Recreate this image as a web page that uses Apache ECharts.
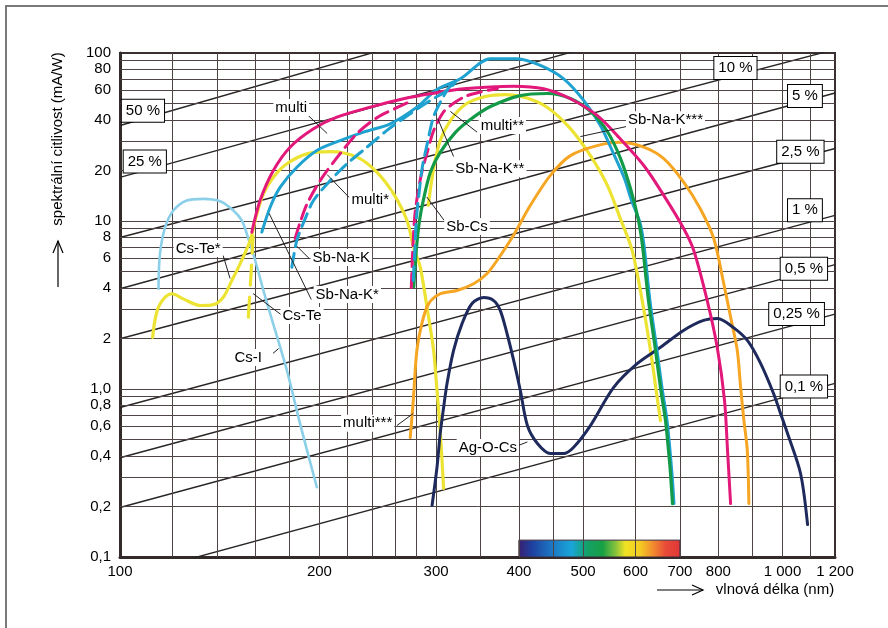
<!DOCTYPE html>
<html><head><meta charset="utf-8">
<script src="https://cdn.jsdelivr.net/npm/echarts@6/dist/echarts.min.js"></script>
<style>html,body{margin:0;padding:0;background:#fff}#c{width:888px;height:628px}</style>
</head><body><div id="c"></div>
<script>
// ---- axes / ticks ----
const xTickLabels = [100,200,300,400,500,600,700,800,1000,1200];
const yTickLabels = [0.1,0.2,0.4,0.6,0.8,1,2,4,6,8,10,20,40,60,80,100];
const xGridLines = [120,140,160,180,200,220,240,260,280,300,350,400,450,500,600,700,800,900,1000,1100];
const yGridLines = [0.2,0.3,0.4,0.5,0.6,0.7,0.8,0.9,1,2,3,4,5,6,7,8,9,10,20,30,40,50,60,70,80,90];

// ---- constant quantum efficiency lines (two points) ----
const qeNames   = ['50 %','25 %','10 %','5 %','2,5 %','1 %','0,5 %','0,25 %','0,1 %'];
const qeStart   = [[100,37],[100,18.2],[100,7.98],[100,3.95],[100,1.99],[100,0.776],[100,0.39],[100,0.197],[100,0.075]];
const qeEnd     = [[265,112],[531,113],[1200,105],[1200,57.8],[1200,27.0],[1200,10.8],[1200,5.5],[1200,2.79],[1200,1.08]];
const qeLabelAt = [[108.3,45.3],[109,22.6],[849,81.4],[1081,55.5],[1064,25.8],[1081,11.6],[1077,5.2],[1050,2.80],[1077,1.035]];

// ---- curves (wavelength nm, sensitivity mA/W) ----
const csI = [[114.3,3.95],[114.9,6.38],[117.0,9.19],[120.4,11.55],[126.1,13.24],[133.6,13.55],[141.6,13.1],[148.3,11.55],[152.7,10.07],[155.4,8.39],[160.0,5.82],[164.6,3.86],[168.5,2.81],[178.6,1.29],[187.0,0.62],[198.2,0.26]];
const csTeStar = [[112.0,2.03],[112.9,2.56],[114.3,3.07],[117.0,3.52],[119.7,3.69],[124.6,3.44],[132.1,3.14],[138.3,3.18],[143.2,3.52],[147.5,4.42],[151.8,5.56],[156.2,7.15],[158.1,8.2]];
const csTe = [[156.2,2.68],[157.5,4.5],[158.8,8.1]];
const yellowArch = [[158.1,8.2],[160.9,11.04],[164.6,14.5],[170.4,18.2],[178.6,21.9],[191.4,25.1],[207.6,25.9],[227.9,24.0],[244.3,19.5],[258.8,14.5],[271.1,10.07],[277.4,6.98],[283.9,5.31],[290.6,3.07],[297.4,1.70],[300.1,1.12],[304.3,0.566],[307.9,0.256]];
const multi = [[158.1,8.58],[162.7,13.24],[170.4,19.98],[180.6,27.5],[195.9,35.4],[212.5,41.5],[238.6,47.6],[267.9,53.4],[294.0,57.2],[330.0,61.2],[392.8,63.4],[435.9,61.2],[478.4,53.4],[524.9,42.5],[562.8,32.3],[617.4,21.4],[661.8,14.2],[709.5,8.99],[734.5,6.68],[769.7,3.36],[796.9,1.77],[817.4,0.854],[826.0,0.430],[834.8,0.208]];
const cyanSolid = [[163.7,8.58],[168.5,12.08],[174.5,15.9],[184.9,20.9],[198.2,26.3],[214.9,30.1],[233.1,33.8],[255.8,37.9],[280.6,47.6],[300.9,60.6],[326.3,70.2],[362.3,92.4],[397.5,92.4],[431.0,84.3],[467.4,70.2],[501.0,52.2],[531.0,37.0],[555.7,25.2],[577.3,17.9],[591.6,13.24],[609.2,9.8],[617.9,7.15],[630.8,3.36],[646.4,1.70],[657.7,1.02],[669.3,0.649],[681.0,0.314],[685.7,0.208]];
const sbCs = [[277.6,4.07],[280.0,6.68],[282.9,9.80],[286.9,13.24],[294.0,19.44],[304.3,25.6],[320.6,33.6],[337.9,40.2],[362.3,48.0],[402.0,55.8],[441.6,57.4],[478.4,53.6],[512.9,44.9],[544.0,34.1],[569.3,23.6],[589.5,15.6],[606.1,10.07],[614.6,7.15],[627.6,3.36],[643.1,1.70],[654.3,1.02],[665.8,0.649],[672.8,0.431],[677.5,0.314],[682.2,0.208]];
const yellow2 = [[291.9,12.4],[297.1,20.0],[304.3,30.1],[315.2,39.6],[331.9,49.4],[356.0,55.1],[381.6,56.6],[409.1,54.3],[441.6,47.4],[478.4,35.5],[512.9,24.5],[544.0,16.3],[569.3,10.3],[592.9,6.68],[614.0,3.36],[631.9,1.70],[646.8,0.89],[654.3,0.649]];
const magDash1 = [[183.8,7.87],[187.0,9.80],[191.7,12.71],[200.5,17.4],[212.7,23.9],[228.0,33.2],[244.5,41.3],[262.1,47.4],[274.2,51.4]];
const cyanDash1 = [[181.7,5.31],[184.9,7.66],[190.4,10.35],[195.9,13.24],[207.6,17.4],[220.1,21.9],[235.9,27.5],[252.9,34.6],[274.2,43.5],[294.0,52.2],[311.6,59.8],[320.6,66.8]];
const magDash2 = [[275.2,4.02],[276.6,6.68],[278.6,10.78],[282.0,15.2],[285.9,20.0],[290.9,25.6],[297.1,34.1],[307.5,44.3],[318.4,50.0],[331.9,55.1],[349.9,58.6],[371.2,61.5]];
const cyanDash2 = [[277.1,4.42],[278.6,6.68],[280.0,10.07],[282.5,14.2],[285.9,20.8],[290.9,28.9],[297.1,41.3],[304.3,50.8],[313.0,61.5],[321.7,68.6]];
const orange = [[274.2,0.514],[277.1,0.854],[280.6,1.70],[285.5,2.45],[292.2,3.21],[304.3,3.69],[322.6,3.86],[341.8,4.23],[357.9,4.85],[370.7,5.82],[392.4,8.20],[416.3,12.4],[446.3,18.7],[478.4,24.5],[524.9,28.1],[569.3,29.4],[617.4,27.5],[661.8,23.5],[709.5,17.0],[751.7,11.8],[787.4,7.87],[815.3,4.23],[834.8,2.68],[854.4,1.70],[864.4,1.025],[874.4,0.649],[884.7,0.431],[889.6,0.208]];
const agOCs = [[295.8,0.2025],[300.9,0.341],[304.3,0.543],[307.5,0.745],[311.6,1.078],[318.8,1.70],[328.3,2.45],[339.9,3.23],[353.9,3.50],[366.4,3.36],[375.0,2.93],[383.8,2.14],[392.8,1.48],[402.0,0.98],[412.0,0.606],[426.6,0.474],[446.3,0.413],[467.0,0.413],[483.5,0.449],[512.9,0.606],[555.7,1.02],[603.9,1.42],[654.3,1.77],[708.7,2.23],[759.8,2.56],[797.7,2.63],[843.3,2.32],[885.5,1.94],[926.6,1.42],[969.2,0.94],[993.1,0.715],[1017.6,0.543],[1064.6,0.314],[1090.9,0.156]];

// ---- curve name labels & leader lines ----
const labelNames = ['multi','multi*','multi**','Sb-Na-K**','Sb-Na-K***','Sb-Cs','Sb-Na-K','Sb-Na-K*','Cs-Te','Cs-Te*','Cs-I','multi***','Ag-O-Cs'];
const labelAt = [[181.3,47.4],[238.6,13.4],[377.6,37.0],[361.6,20.5],[665.8,40.0],[334.0,9.27],[215.8,6.06],[220.3,3.65],[188.3,2.74],[131.2,6.86],[156.1,1.54],[236.5,0.626],[359.1,0.449]];
const leaderFrom = [[192.3,42.5],[221.8,13.8],[345.9,33.8],[318.8,24.2],[581.2,36.5],[308.6,10.07],[193.0,5.98],[194.4,3.41],[175.7,2.74],[143.1,6.23],[170.2,1.63],[261.8,0.606],[399.3,0.461]];
const leaderTo   = [[205.4,33.2],[205.4,18.9],[315.2,44.9],[301.7,40.7],[495.3,31.8],[290.4,13.9],[185.1,7.05],[167.9,11.1],[158.8,3.70],[146.6,4.55],[173.5,1.74],[277.1,0.715],[412.0,0.484]];

// ---- visible spectrum bar ----
const spectrumFrom = 400, spectrumTo = 700;

const FONT = '"Liberation Sans", Arial, Helvetica, sans-serif';
const C = {magenta:'#e2187b', cyan:'#1fa2cf', light:'#8ccfe8', yellow:'#ece332', green:'#139a48', orange:'#f6a623', navy:'#1e2a5c'};

function fmtNum(v){ v = +(+v).toPrecision(6); return String(v).replace('.',','); }
function curve(name, data, color, width, dash, z){
  return {type:'line', name, data, smooth:0.3, symbol:'none', clip:true, z: z||5,
    lineStyle:{color, width: width||3, type: dash||'solid', cap:'round', join:'round'}, silent:true, animation:false};
}

const series = [];
// grid lines
series.push({type:'line', data:[], z:1, silent:true, animation:false,
  markLine:{symbol:['none','none'], silent:true, animation:false, label:{show:false},
    lineStyle:{color:'#4e4444', width:1, type:'solid'},
    data: xGridLines.map(v=>({xAxis:v})).concat(yGridLines.map(v=>({yAxis:v})))}});
// QE lines
qeStart.forEach((s,i)=>{
  series.push({type:'line', name:'QE '+qeNames[i], data:[s, qeEnd[i]], symbol:'none', clip:true, z:2, silent:true, animation:false,
    lineStyle:{color:'#2a2525', width:1.4}});
});
// spectrum bar
series.push({type:'line', data:[], z:3, silent:true, animation:false,
  markArea:{silent:true, animation:false, label:{show:false},
    itemStyle:{borderColor:'#3a2a3a', borderWidth:1, opacity:1,
      color:{type:'linear', x:0,y:0,x2:1,y2:0, colorStops:[
        {offset:0, color:'#3a1f70'},{offset:0.08,color:'#1f3f9e'},{offset:0.2,color:'#1c74c2'},
        {offset:0.33,color:'#1aa6d8'},{offset:0.42,color:'#14a06a'},{offset:0.52,color:'#18a044'},
        {offset:0.6,color:'#86c23c'},{offset:0.66,color:'#f0e224'},{offset:0.75,color:'#f4cc22'},
        {offset:0.83,color:'#f18c2e'},{offset:0.91,color:'#e84a38'},{offset:1,color:'#e03636'}]}},
    data:[[{xAxis:spectrumFrom, yAxis:0.1},{xAxis:spectrumTo, yAxis:0.126}]]}});
// curves
series.push(curve('Cs-I', csI, C.light, 2.6));
series.push(curve('Cs-Te*', csTeStar, C.yellow, 3.2));
series.push(curve('Cs-Te', csTe, C.yellow, 3.2, [20,12]));
series.push(curve('yellow arch', yellowArch, C.yellow, 3.2));
series.push(curve('yellow 2', yellow2, C.yellow, 3.2));
series.push(curve('orange', orange, C.orange, 3));
series.push(curve('Ag-O-Cs', agOCs, C.navy, 3));
series.push(curve('cyan solid', cyanSolid, C.cyan, 3));
series.push(curve('Sb-Cs', sbCs, C.green, 3.2));
series.push(curve('multi', multi, C.magenta, 3));
series.push(curve('magenta dash 1', magDash1, C.magenta, 3, [14,7]));
series.push(curve('cyan dash 1', cyanDash1, C.cyan, 3, [14,7]));
series.push(curve('magenta dash 2', magDash2, C.magenta, 3, [14,7]));
series.push(curve('cyan dash 2', cyanDash2, C.cyan, 3, [14,7]));
// leader lines
leaderFrom.forEach((f,i)=>{
  series.push({type:'line', data:[f, leaderTo[i]], symbol:'none', z:7, silent:true, animation:false,
    lineStyle:{color:'#222', width:1}});
});
// curve labels
series.push({type:'scatter', z:9, silent:true, animation:false, symbolSize:1, itemStyle:{color:'rgba(0,0,0,0)', opacity:1},
  data: labelNames.map((n,i)=>({name:n, value:labelAt[i]})),
  label:{show:true, position:'inside', formatter:'{b}', color:'#000', textBorderWidth:0, fontSize:15, fontFamily:FONT,
    backgroundColor:'#fff', padding:[1,2]}});
// QE labels
series.push({type:'scatter', z:9, silent:true, animation:false, symbolSize:1, itemStyle:{color:'rgba(0,0,0,0)', opacity:1},
  data: qeNames.map((n,i)=>({name:n, value:qeLabelAt[i]})),
  label:{show:true, position:'inside', formatter:'{b}', color:'#000', textBorderWidth:0, fontSize:15, fontFamily:FONT,
    backgroundColor:'#fff', borderColor:'#000', borderWidth:1, padding:[4,4,3,4]}});

const chart = echarts.init(document.getElementById('c'), null, {renderer:'canvas'});
chart.setOption({
  animation:false,
  backgroundColor:'#fff',
  grid:{left:120, right:53, top:53, bottom:71, show:true, borderColor:'#3a3030', borderWidth:2, backgroundColor:'#fff'},
  xAxis:{type:'log', logBase:10, min:100, max:1200,
    axisLine:{show:true, onZero:false, lineStyle:{color:'#332a2a', width:3}},
    axisTick:{show:false}, splitLine:{show:false}, minorTick:{show:false}, minorSplitLine:{show:false},
    axisLabel:{customValues:xTickLabels, margin:7, color:'#000', fontSize:15, fontFamily:FONT,
      formatter:v=>String(Math.round(v)).replace(/\B(?=(\d{3})+(?!\d))/g,' ')}},
  yAxis:{type:'log', logBase:10, min:0.1, max:100,
    axisLine:{show:true, onZero:false, lineStyle:{color:'#332a2a', width:3}},
    axisTick:{show:false}, splitLine:{show:false}, minorTick:{show:false}, minorSplitLine:{show:false},
    axisLabel:{customValues:yTickLabels, margin:9, color:'#000', fontSize:15, fontFamily:FONT,
      formatter:v=>{ const r=+(+v).toPrecision(6); return r===1 ? '1,0' : fmtNum(r); }}},
  graphic:[
    {type:'rect', silent:true, z:-1, shape:{x:6,y:6,width:920,height:660}, style:{fill:'none', stroke:'#7a7a7a', lineWidth:2}},
    {type:'text', silent:true, x:58, y:139, rotation:Math.PI/2,
      style:{text:'spektrální citlivost (mA/W)', font:'15px '+FONT, fill:'#000', align:'center', verticalAlign:'middle'}},
    {type:'line', silent:true, shape:{x1:58,y1:287,x2:58,y2:241}, style:{stroke:'#000', lineWidth:1.2}},
    {type:'polyline', silent:true, shape:{points:[[53,253],[58,241],[63,253]]}, style:{stroke:'#000', lineWidth:1.2, fill:'none'}},
    {type:'line', silent:true, shape:{x1:657,y1:590,x2:703,y2:590}, style:{stroke:'#000', lineWidth:1.2}},
    {type:'polyline', silent:true, shape:{points:[[692,585],[703,590],[692,595]]}, style:{stroke:'#000', lineWidth:1.2, fill:'none'}},
    {type:'text', silent:true, x:775, y:590,
      style:{text:'vlnová délka (nm)', font:'15px '+FONT, fill:'#000', align:'center', verticalAlign:'middle'}}
  ],
  series
});
</script></body></html>
